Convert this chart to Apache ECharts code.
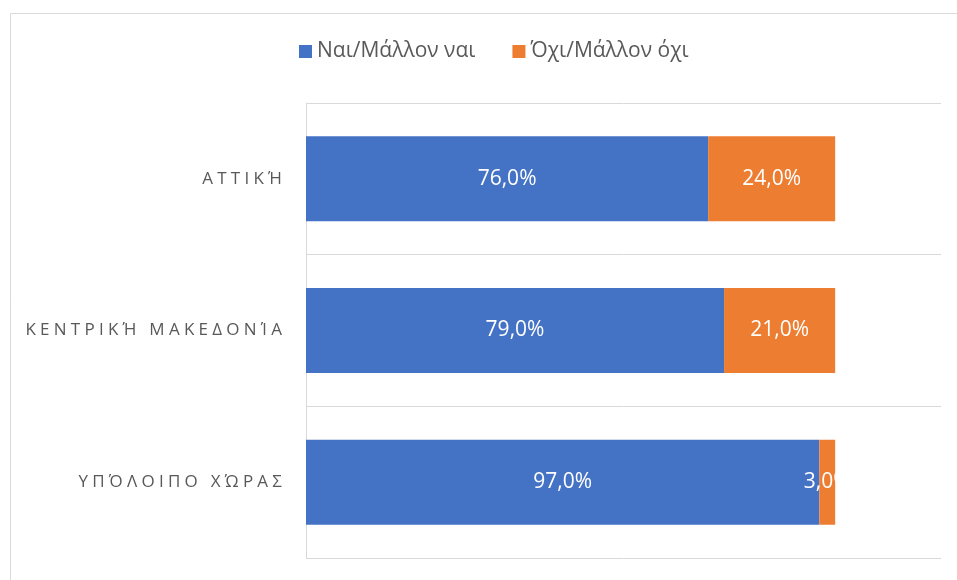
<!DOCTYPE html>
<html style="height: 100%;">
<head>
  <meta charset="utf-8">
  <title>Ναι/Όχι ανά περιοχή</title>
  <script type="text/javascript" src="https://cdn.jsdelivr.net/npm/echarts@6/dist/echarts.min.js"></script>
</head>
<body style="height: 100%; margin: 0; background: #fff">
  <div id="container" style="width: 957px; height: 580px"></div>
  <script type="text/javascript">
    // δεδομένα
    var regions = ['ΑΤΤΙΚΉ', 'ΚΕΝΤΡΙΚΉ ΜΑΚΕΔΟΝΊΑ', 'ΥΠΌΛΟΙΠΟ ΧΏΡΑΣ'];
    var seriesNames = ['Ναι/Μάλλον ναι', 'Όχι/Μάλλον όχι'];
    var yesValues = [76, 79, 97];
    var noValues = [24, 21, 3];

    var font = '"Open Sans", "Noto Sans", sans-serif';

    // αραιά γράμματα στις ετικέτες κατηγορίας
    function spaced(str) {
      return str.split(' ').map(function (w) {
        return w.split('').join('\u2005');
      }).join('\u2005 \u2005');
    }

    function pct(p) {
      return p.value.toFixed(1).replace('.', ',') + '%';
    }

    var dataLabel = {
      show: true,
      position: 'inside',
      color: '#fff',
      fontSize: 21,
      fontFamily: font,
      formatter: pct
    };

    var myChart = echarts.init(document.getElementById('container'));
    var option = {
      animation: false,
      color: ['#4472C4', '#ED7D31'],
      graphic: [{
        type: 'rect',
        shape: { x: 10.5, y: 13.5, width: 1000, height: 1000 },
        style: { fill: null, stroke: '#d9d9d9', lineWidth: 1 },
        silent: true
      }],
      legend: {
        left: 294,
        top: 36,
        itemWidth: 13,
        itemHeight: 13,
        itemGap: 37,
        icon: 'rect',
        textStyle: { color: '#595959', fontSize: 21, fontFamily: font },
        data: seriesNames
      },
      grid: { left: 306, right: 16, top: 103, bottom: 22, containLabel: false },
      xAxis: {
        type: 'value',
        min: 0,
        max: 120,
        axisLabel: { show: false },
        axisLine: { show: false },
        axisTick: { show: false },
        splitLine: { show: false }
      },
      yAxis: {
        type: 'category',
        inverse: true,
        data: regions,
        axisTick: { show: false },
        axisLine: { show: true, lineStyle: { color: '#d9d9d9', width: 1 } },
        splitLine: { show: true, lineStyle: { color: '#d9d9d9', width: 1 } },
        axisLabel: {
          color: '#595959',
          fontSize: 17,
          fontFamily: font,
          margin: 24,
          formatter: spaced
        }
      },
      series: [
        {
          name: seriesNames[0],
          type: 'bar',
          stack: 'total',
          barCategoryGap: '44%',
          data: yesValues,
          label: dataLabel
        },
        {
          name: seriesNames[1],
          type: 'bar',
          stack: 'total',
          barCategoryGap: '44%',
          data: noValues,
          label: dataLabel
        }
      ]
    };
    myChart.setOption(option);
  </script>
</body>
</html>
